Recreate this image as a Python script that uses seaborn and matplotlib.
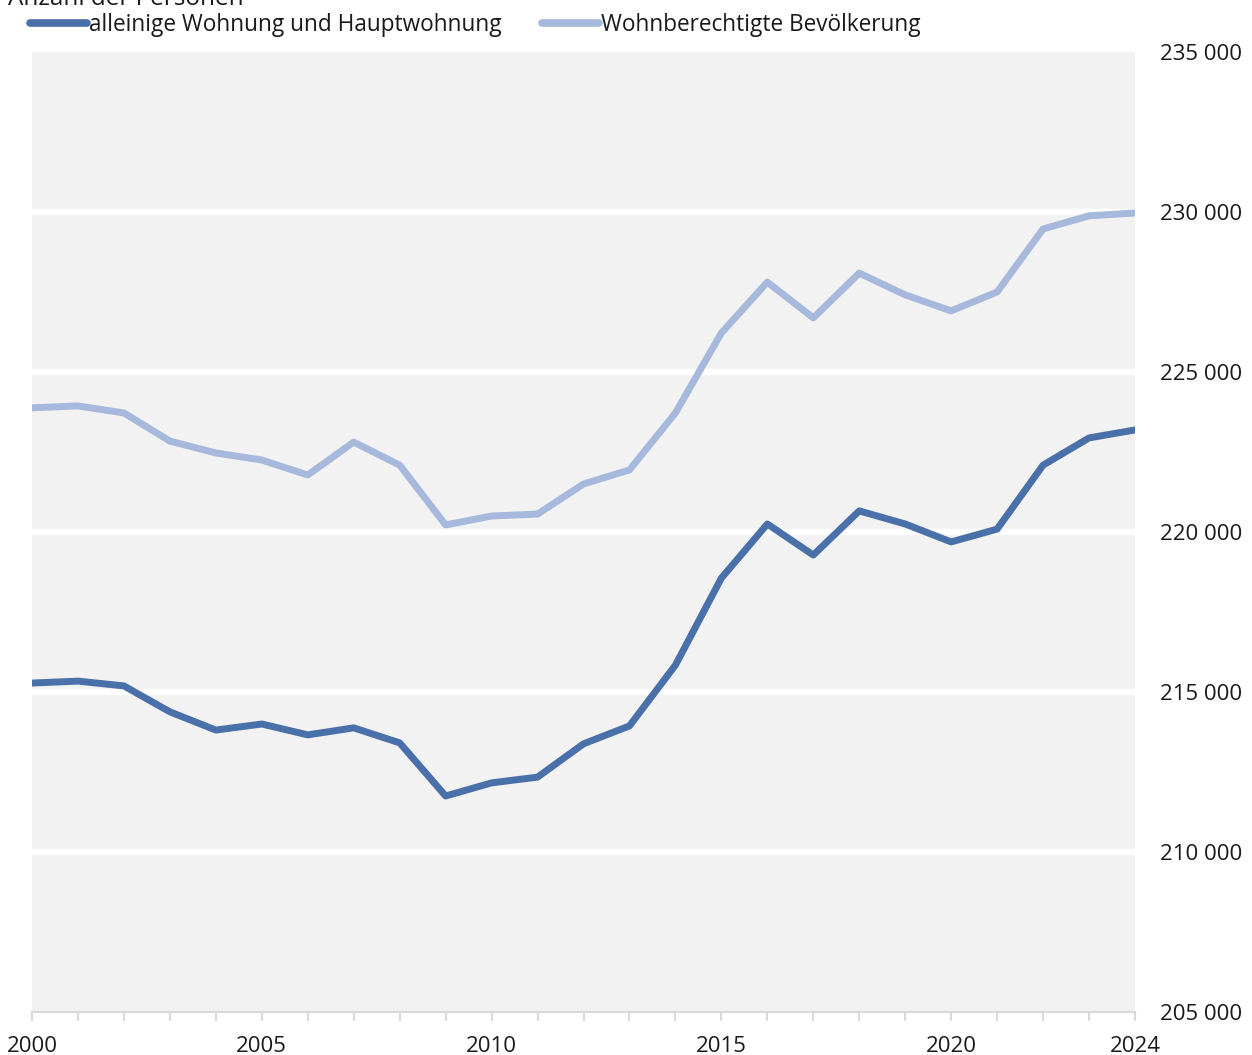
import pandas as pd
import numpy as np
import matplotlib
matplotlib.use('Agg')
import matplotlib.pyplot as plt
import seaborn as sns
from matplotlib.ticker import FuncFormatter, MultipleLocator
from matplotlib.lines import Line2D

# Werte
jahre = list(range(2000, 2025))
hauptwohnung = [215280, 215340, 215190, 214380, 213810, 214000, 213660, 213880, 213410,
                211750, 212160, 212340, 213380, 213940, 215840, 218560, 220250, 219280,
                220660, 220250, 219690, 220090, 222090, 222940, 223190]
wohnberechtigt = [223880, 223940, 223720, 222840, 222470, 222250, 221780, 222810, 222090,
                  220220, 220500, 220560, 221500, 221940, 223720, 226220, 227810, 226690,
                  228090, 227410, 226910, 227500, 229470, 229880, 229970]

serie_namen = ['alleinige Wohnung und Hauptwohnung', 'Wohnberechtigte Bevölkerung']
farben = ['#4a70aa', '#a6b8db']

df = pd.DataFrame({'Jahr': jahre,
                   serie_namen[0]: hauptwohnung,
                   serie_namen[1]: wohnberechtigt})
df_long = df.melt(id_vars='Jahr', var_name='Serie', value_name='Personen')

sns.set_theme(style='white')
plt.rcParams['font.family'] = ['Open Sans', 'DejaVu Sans']

fig = plt.figure(figsize=(12.52, 10.55), dpi=100)
ax = fig.add_axes([32 / 1252, 43 / 1055, 1103 / 1252, 960 / 1055])
ax.set_facecolor('#f2f2f2')

# weisse Gitterlinien
for y in range(210000, 235000, 5000):
    ax.axhline(y, color='white', lw=4.5, zorder=1)

sns.lineplot(data=df_long, x='Jahr', y='Personen', hue='Serie', palette=farben,
             hue_order=serie_namen, lw=5, ax=ax, zorder=3, legend=False)

ax.set_xlim(2000, 2024)
ax.set_ylim(205000, 235000)
ax.set_xticks([2000, 2005, 2010, 2015, 2020, 2024])
ax.yaxis.set_major_locator(MultipleLocator(5000))
ax.yaxis.set_major_formatter(FuncFormatter(lambda v, p: f'{int(v):,}'.replace(',', ' ')))
ax.yaxis.tick_right()
ax.tick_params(axis='y', length=0, labelsize=16, pad=18, colors='#1a1a1a')
ax.tick_params(axis='x', which='both', length=0, labelsize=16, pad=17, colors='#1a1a1a')
ax.set_xlabel('')
ax.set_ylabel('')

for s in ['top', 'left', 'right']:
    ax.spines[s].set_visible(False)
ax.spines['bottom'].set_color('#d9d9d9')
ax.spines['bottom'].set_linewidth(1.5)

# kleine Striche unter der Achse fuer jedes Jahr
for j in jahre:
    ax.plot([j, j], [0, -0.008], transform=ax.get_xaxis_transform(), color='#d9d9d9',
            lw=1.5, clip_on=False)

# Legende oben
handles = [Line2D([0], [0], color=c, lw=5.5, solid_capstyle='round') for c in farben]
fig.legend(handles, serie_namen, loc='upper left', bbox_to_anchor=(30 / 1252, 1 - 13 / 1055),
           ncol=2, frameon=False, fontsize=16.3, handlelength=2.5, handletextpad=0.1,
           columnspacing=1.8, borderaxespad=0, borderpad=0, labelcolor='#1a1a1a')

fig.text(8 / 1252, 1 - 5 / 1055, 'Anzahl der Personen', ha='left', va='baseline',
         fontsize=17.5, color='#1a1a1a')

fig.savefig('out.png', dpi=100)
